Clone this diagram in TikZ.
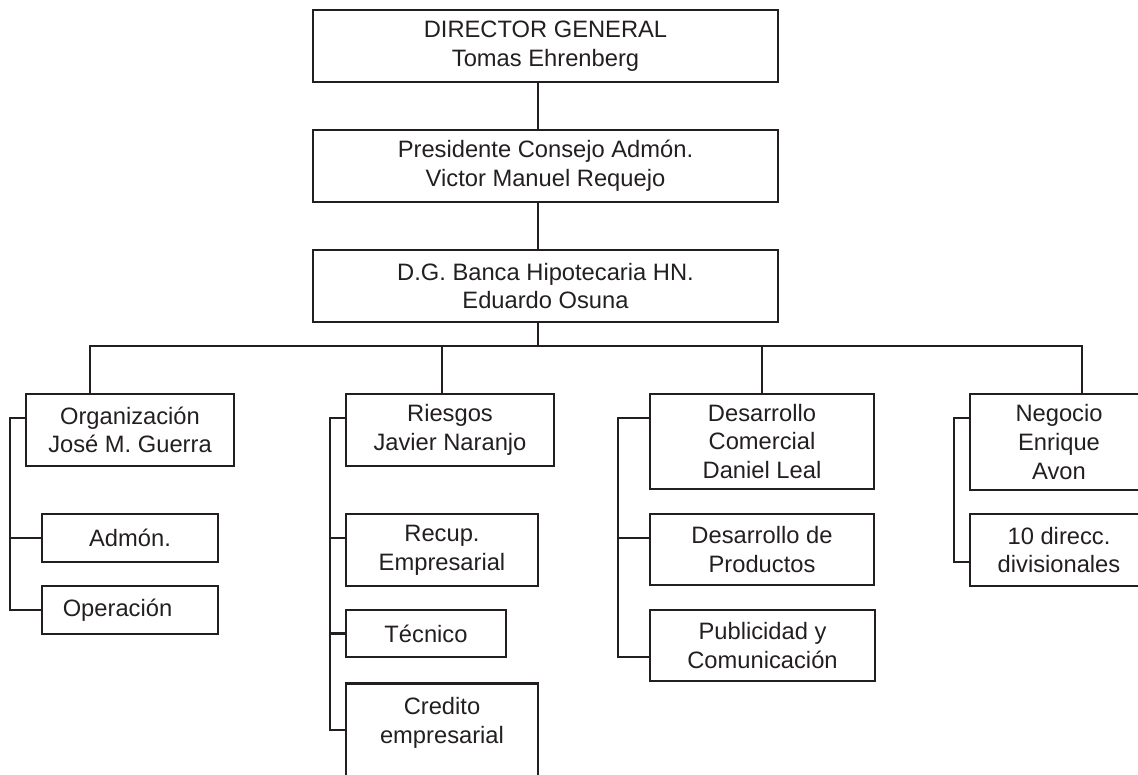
\documentclass[tikz,border=0pt]{standalone}
\usepackage{fontspec}
\setmainfont{Liberation Sans}
\usetikzlibrary{calc}
\definecolor{ink}{HTML}{231F20}

\begin{document}
\begin{tikzpicture}[x=0.02cm, y=-0.02cm, line width=1.5pt, color=ink,
    box/.style={draw, rectangle, align=center, inner sep=0pt,
        font=\fontsize{13.5}{16.3}\selectfont}]
    \useasboundingbox (0,0) rectangle (1138,774);
    \clip (0,0) rectangle (1138,774);

    \node[box, minimum width=9.3cm, minimum height=1.44cm] (dir) at (545.5,46) {DIRECTOR GENERAL\\Tomas Ehrenberg};
    \node[box, minimum width=9.3cm, minimum height=1.44cm] (pres) at (545.5,166) {Presidente Consejo Admón.\\Victor Manuel Requejo};
    \node[box, minimum width=9.3cm, minimum height=1.44cm] (dg) at (545.5,286) {D.G. Banca Hipotecaria HN.\\Eduardo Osuna};

    \node[box, minimum width=4.16cm, minimum height=1.44cm] (org) at (130,430) {Organización\\José M. Guerra};
    \node[box, minimum width=3.52cm, minimum height=0.96cm] (adm) at (130,538) {Admón.};
    \node[box, minimum width=3.52cm, minimum height=0.96cm] (ope) at (130,610) {Operación\hspace{0.5cm}};

    \node[box, minimum width=4.16cm, minimum height=1.44cm] (rie) at (450,430) {Riesgos\\Javier Naranjo};
    \node[box, minimum width=3.84cm, minimum height=1.44cm] (rec) at (442,550) {Recup.\\Empresarial};
    \node[box, minimum width=3.2cm, minimum height=0.94cm] (tec) at (426,633.5) {Técnico};
    \node[box, minimum width=3.84cm, minimum height=2.64cm, anchor=north] (cre) at (442,682) {Credito\\empresarial\\\mbox{}\\\mbox{}};

    \node[box, minimum width=4.48cm, minimum height=1.9cm] (dco) at (762,441.5) {Desarrollo\\Comercial\\Daniel Leal};
    \node[box, minimum width=4.48cm, minimum height=1.42cm] (dpr) at (762,549.5) {Desarrollo de\\Productos};
    \node[box, minimum width=4.5cm, minimum height=1.42cm] (pub) at (762.5,645.5) {Publicidad y\\Comunicación};

    \node[box, minimum width=3.56cm, minimum height=1.92cm] (neg) at (1059,442) {Negocio\\Enrique\\Avon};
    \node[box, minimum width=3.56cm, minimum height=1.44cm] (div) at (1059,550) {10 direcc.\\divisionales};

    \coordinate (trunk) at (538,346);
    \draw (dir.south -| trunk) -- (pres.north -| trunk);
    \draw (pres.south -| trunk) -- (dg.north -| trunk);
    \draw (dg.south -| trunk) -- (trunk);

    \coordinate (b1) at (90,346);
    \coordinate (b2) at (442,346);
    \coordinate (b3) at (762,346);
    \coordinate (b4) at (1082,346);
    \draw (org.north -| b1) -- (b1) -- (b4) -- (neg.north -| b4);
    \draw (rie.north -| b2) -- (b2);
    \draw (dco.north -| b3) -- (b3);

    \coordinate (s1) at (10,418);
    \coordinate (s2) at (330,418);
    \coordinate (s3) at (618,418);
    \coordinate (s4) at (954,418);
    \draw (org.west |- s1) -- (s1) |- (ope.west);
    \draw (adm.west) -- (adm.west -| s1);
    \draw (rie.west |- s2) -- (s2) |- ($(cre.north west)+(0,48)$);
    \draw ($(rec.west)+(0,-12)$) -- ($(rec.west -| s2)+(0,-12)$);
    \draw (tec.west) -- (tec.west -| s2);
    \draw (dco.west |- s3) -- (s3) |- ($(pub.west)+(0,11.5)$);
    \draw ($(dpr.west)+(0,-11.5)$) -- ($(dpr.west -| s3)+(0,-11.5)$);
    \draw (neg.west |- s4) -- (s4) |- ($(div.west)+(0,12)$);
\end{tikzpicture}
\end{document}
